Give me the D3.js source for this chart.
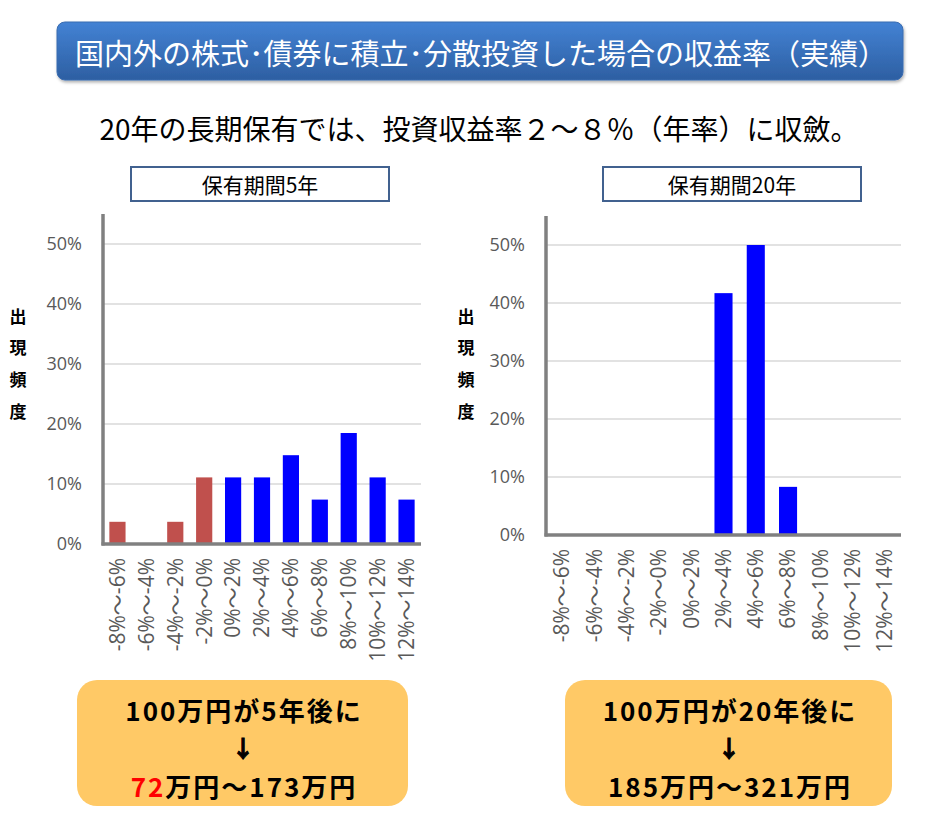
<!DOCTYPE html>
<html><head><meta charset="utf-8">
<script src="https://cdn.jsdelivr.net/npm/d3@7/dist/d3.min.js"></script>
<style>
body{margin:0;background:#fff;}
svg{display:block;}
</style></head>
<body>
<svg id="chart" width="927" height="823"></svg>
<script>
// ---- data ----
const categories = ["-8%～-6%","-6%～-4%","-4%～-2%","-2%～0%","0%～2%","2%～4%","4%～6%","6%～8%","8%～10%","10%～12%","12%～14%"];
const values5y  = [3.7, 0, 3.7, 11.1, 11.1, 11.1, 14.8, 7.4, 18.5, 11.1, 7.4];
const values20y = [0, 0, 0, 0, 0, 41.7, 50.0, 8.3, 0, 0, 0];
const negativeCategories = ["-8%～-6%","-6%～-4%","-4%～-2%","-2%～0%"];
const yTicks = [0, 10, 20, 30, 40, 50];
const yMax = 55;
const titleText = "国内外の株式･債券に積立･分散投資した場合の収益率（実績）";
const subtitleText = "20年の長期保有では、投資収益率２～８％（年率）に収斂。";
const panelTitles = ["保有期間5年", "保有期間20年"];
const axisTitleChars = ["出","現","頻","度"];
const boxLines5y = ["100万円が5年後に", "↓"];
const boxLines20y = ["100万円が20年後に", "↓", "185万円～321万円"];
const box5yRed = "72";
const box5yRest = "万円～173万円";

const svg = d3.select("#chart");
const JP = "'Noto Sans CJK JP','Noto Sans',sans-serif";
const LAT = "'Open Sans','Noto Sans CJK JP',sans-serif";

// ---- header ----
const defs = svg.append("defs");
const g1 = defs.append("linearGradient").attr("id","hdr").attr("x1",0).attr("y1",0).attr("x2",0).attr("y2",1);
g1.append("stop").attr("offset","0%").attr("stop-color","#4382d4");
g1.append("stop").attr("offset","100%").attr("stop-color","#2d5fa2");
const f = defs.append("filter").attr("id","sh").attr("x","-5%").attr("y","-20%").attr("width","110%").attr("height","150%");
f.append("feDropShadow").attr("dx",1).attr("dy",2).attr("stdDeviation",1.5).attr("flood-color","#000").attr("flood-opacity",0.3);

svg.append("rect").attr("x",57).attr("y",22).attr("width",846).attr("height",58).attr("rx",8)
  .attr("fill","url(#hdr)").attr("stroke","#3a6cb0").attr("stroke-width",1).attr("filter","url(#sh)");
svg.append("text").attr("x",481).attr("y",52).attr("text-anchor","middle").attr("dominant-baseline","central")
  .attr("fill","#fff").attr("font-family",JP).attr("font-size",29).text(titleText);

svg.append("text").attr("x",479).attr("y",128).attr("text-anchor","middle").attr("dominant-baseline","central")
  .attr("fill","#000").attr("font-family",JP).attr("font-size",28).text(subtitleText);

// ---- panels ----
function drawPanel(p){
  const x = d3.scaleBand().domain(categories).range([p.x0, p.x1]).paddingInner(0.44).paddingOuter(0.22);
  const y = d3.scaleLinear().domain([0, yMax]).range([p.y0, p.yTop]);

  // title box
  svg.append("rect").attr("x",p.tx).attr("y",167).attr("width",p.tw).attr("height",34)
    .attr("fill","#fff").attr("stroke","#41618f").attr("stroke-width",2);
  svg.append("text").attr("x",p.tx+p.tw/2).attr("y",184).attr("text-anchor","middle").attr("dominant-baseline","central")
    .attr("font-family",JP).attr("font-size",21).attr("fill","#000").text(p.title);

  // gridlines
  svg.append("g").selectAll("line").data(yTicks.filter(d=>d>0)).join("line")
    .attr("x1",p.x0).attr("x2",p.x1).attr("y1",d=>y(d)).attr("y2",d=>y(d))
    .attr("stroke","#d9d9d9").attr("stroke-width",1.5);

  // y axis via d3
  const ya = svg.append("g").attr("transform",`translate(${p.x0},0)`)
    .call(d3.axisLeft(y).tickValues(yTicks).tickFormat(d=>d+"%").tickSize(0).tickPadding(21));
  ya.select(".domain").remove();
  ya.selectAll("text").attr("font-family",LAT).attr("font-size",18).attr("fill","#595959");

  // bars
  svg.append("g").selectAll("rect").data(categories.map((c,i)=>({c, v:p.values[i]})).filter(d=>d.v>0)).join("rect")
    .attr("x",d=>x(d.c)).attr("width",x.bandwidth())
    .attr("y",d=>y(d.v)).attr("height",d=>y(0)-y(d.v))
    .attr("fill",d=>negativeCategories.includes(d.c)?"#c0504d":"#0000ff");

  // axis lines
  svg.append("line").attr("x1",p.x0).attr("x2",p.x0).attr("y1",p.yTop).attr("y2",p.y0+1.5)
    .attr("stroke","#808080").attr("stroke-width",3.5);
  svg.append("line").attr("x1",p.x0-1.5).attr("x2",p.x1).attr("y1",p.y0).attr("y2",p.y0)
    .attr("stroke","#808080").attr("stroke-width",3.5);

  // x axis labels via d3
  const xa = svg.append("g").attr("transform",`translate(0,${p.y0})`)
    .call(d3.axisBottom(x).tickSize(0).tickPadding(0));
  xa.select(".domain").remove();
  xa.selectAll("text")
    .attr("font-family",LAT).attr("font-size",21).attr("fill","#595959")
    .attr("text-anchor","end").attr("dy","0.35em").attr("y",0)
    .attr("transform","translate(0,14) rotate(-90)").attr("x",0);

  // y axis title
  svg.append("g").selectAll("text").data(axisTitleChars).join("text")
    .attr("x",p.atx).attr("y",(d,i)=>315+i*31.7).attr("text-anchor","middle").attr("dominant-baseline","central")
    .attr("font-family",JP).attr("font-size",17).attr("font-weight",700).attr("fill","#000").text(d=>d);
}

drawPanel({x0:103, x1:421, y0:544, yTop:214, values:values5y, tx:131, tw:258, title:panelTitles[0], atx:18});
drawPanel({x0:546, x1:901, y0:535, yTop:216, values:values20y, tx:603, tw:258, title:panelTitles[1], atx:466});

// ---- result boxes ----
function drawBox(bx, bw){
  svg.append("rect").attr("x",bx).attr("y",680).attr("width",bw).attr("height",126).attr("rx",20)
    .attr("fill","#ffc966");
}
drawBox(77, 331);
drawBox(565, 327);

const boxFont = {family:JP, size:26, weight:700, ls:2};
function boxText(cx, cy, t, size){
  return svg.append("text").attr("x",cx).attr("y",cy).attr("text-anchor","middle").attr("dominant-baseline","central")
    .attr("font-family",boxFont.family).attr("font-size",size||boxFont.size).attr("font-weight",boxFont.weight)
    .attr("letter-spacing",boxFont.ls).attr("fill","#000").text(t);
}
function arrowText(cx, cy, t){
  return svg.append("text").attr("x",cx).attr("y",cy).attr("text-anchor","middle").attr("dominant-baseline","central")
    .attr("font-family",boxFont.family).attr("font-size",23).attr("font-weight",boxFont.weight)
    .attr("stroke","#000").attr("stroke-width",1).attr("fill","#000").text(t);
}
boxText(244, 709, boxLines5y[0]);
arrowText(243, 747, boxLines5y[1]);
const l3 = svg.append("text").attr("x",244).attr("y",785).attr("text-anchor","middle").attr("dominant-baseline","central")
  .attr("font-family",boxFont.family).attr("font-size",boxFont.size).attr("font-weight",boxFont.weight)
  .attr("letter-spacing",boxFont.ls).attr("fill","#000");
l3.append("tspan").attr("fill","#ff0000").text(box5yRed);
l3.append("tspan").text(box5yRest);

boxText(730, 709, boxLines20y[0]);
arrowText(729, 747, boxLines20y[1]);
boxText(730, 785, boxLines20y[2]);
</script>
</body></html>
